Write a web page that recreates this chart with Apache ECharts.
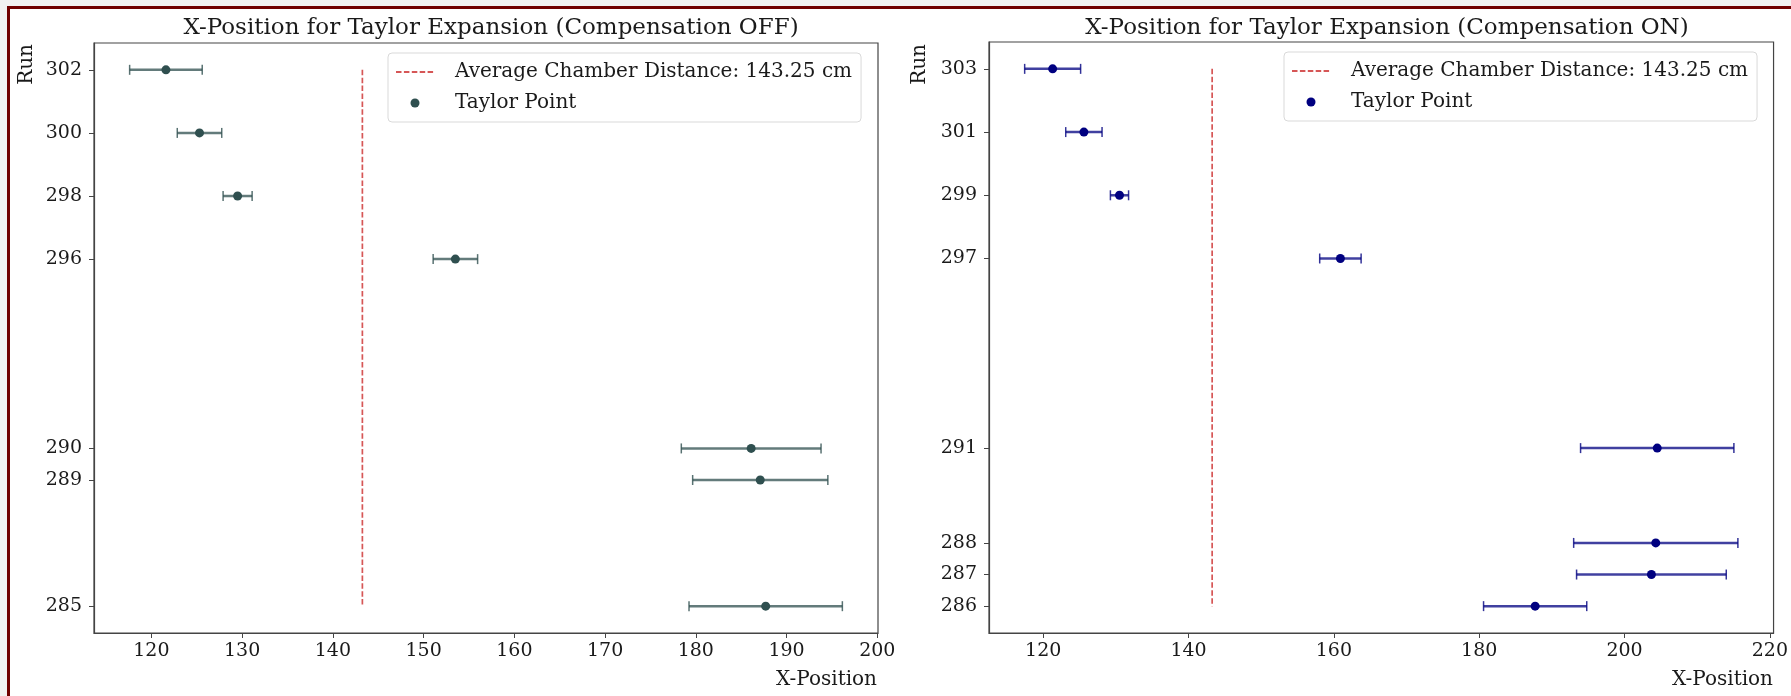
<!DOCTYPE html>
<html>
<head>
<meta charset="utf-8">
<script src="https://cdn.jsdelivr.net/npm/echarts@6.0.0/dist/echarts.min.js"></script>
<style>
  html, body { margin: 0; padding: 0; background: #f2f2f2; }
  #frame { position: absolute; left: 7px; top: 6px; right: 0; bottom: 0; background: #fff;
           border-top: 3px solid #700000; border-left: 3px solid #700000; }
  #chart { position: absolute; left: 0; top: 0; width: 1791px; height: 696px; }
</style>
</head>
<body>
<div id="frame"></div>
<div id="chart"></div>
<script>
// average chamber distance (vertical reference line)
const avgDistance = 143.25
const lineName = 'Average Chamber Distance: ' + avgDistance.toFixed(2) + ' cm'
const pointName = 'Taylor Point'

// compensation OFF
const runsOff = [302, 300, 298, 296, 290, 289, 285]
const xOff    = [121.6, 125.3, 129.5, 153.5, 186.1, 187.1, 187.7]
const errOff  = [4.0, 2.45, 1.6, 2.45, 7.7, 7.45, 8.45]
const xTicksOff = [120, 130, 140, 150, 160, 170, 180, 190, 200]

// compensation ON
const runsOn = [303, 301, 299, 297, 291, 288, 287, 286]
const xOn    = [121.3, 125.6, 130.5, 160.9, 204.5, 204.3, 203.7, 187.7]
const errOn  = [3.85, 2.5, 1.25, 2.85, 10.55, 11.3, 10.3, 7.1]
const xTicksOn = [120, 140, 160, 180, 200, 220]

const colOff = '#2f4f4f'
const colOn = '#000080'
const colLine = '#d24444'
const font = 'DejaVu Serif'
const txt = '#1a1a1a'

// matplotlib-like 5% margins
function pad(lo, hi) {
  let p = (hi - lo) * 0.05
  return [lo - p, hi + p]
}
function xRange(x, e) {
  return pad(Math.min(...x.map((v, i) => v - e[i])), Math.max(...x.map((v, i) => v + e[i])))
}
const xrOff = xRange(xOff, errOff), xrOn = xRange(xOn, errOn)
const yrOff = pad(Math.min(...runsOff), Math.max(...runsOff))
const yrOn = pad(Math.min(...runsOn), Math.max(...runsOn))

function errorBar(color) {
  return function (params, api) {
    let x = api.value(0), y = api.value(1), e = api.value(2)
    let a = api.coord([x - e, y]), b = api.coord([x + e, y])
    let cap = 5
    return {
      type: 'group',
      children: [
        { type: 'line', shape: { x1: a[0], y1: a[1], x2: b[0], y2: b[1] }, style: { stroke: color, lineWidth: 2.5, opacity: 0.75 } },
        { type: 'line', shape: { x1: a[0], y1: a[1] - cap, x2: a[0], y2: a[1] + cap }, style: { stroke: color, lineWidth: 1.5, opacity: 0.8 } },
        { type: 'line', shape: { x1: b[0], y1: b[1] - cap, x2: b[0], y2: b[1] + cap }, style: { stroke: color, lineWidth: 1.5, opacity: 0.8 } }
      ]
    }
  }
}

function xAxisOf(idx, range, ticks) {
  return {
    gridIndex: idx, type: 'value', min: range[0], max: range[1],
    splitLine: { show: false },
    axisLine: { show: true, lineStyle: { color: '#444', width: 1.2 } },
    axisTick: { show: true, length: 5, customValues: ticks, lineStyle: { color: '#444' } },
    axisLabel: { customValues: ticks, margin: 9, fontFamily: font, fontSize: 19, color: txt }
  }
}
function yAxisOf(idx, range, ticks) {
  return {
    gridIndex: idx, type: 'value', min: range[0], max: range[1],
    splitLine: { show: false },
    axisLine: { show: true, lineStyle: { color: '#444', width: 1.2 } },
    axisTick: { show: true, length: 5, customValues: ticks, lineStyle: { color: '#444' } },
    axisLabel: { customValues: ticks, margin: 12, fontFamily: font, fontSize: 19, color: txt }
  }
}

function legendOf(left, top, pointColor) {
  return {
    left: left, top: top, orient: 'vertical',
    itemWidth: 38, itemHeight: 9, itemGap: 11,
    padding: [9, 9, 9, 7],
    borderColor: '#d9d9d9', borderWidth: 1, borderRadius: 4, backgroundColor: '#fff',
    textStyle: { fontFamily: font, fontSize: 20, color: txt, padding: [0, 0, 0, 16] },
    selectedMode: false,
    data: [
      { name: lineName, itemStyle: { opacity: 0 } },
      { name: pointName, icon: 'circle', itemStyle: { color: pointColor } }
    ]
  }
}

function panelSeries(idx, runs, x, err, color) {
  return [
    {
      name: lineName, type: 'line', xAxisIndex: idx, yAxisIndex: idx,
      symbol: 'none', silent: true,
      lineStyle: { color: colLine, width: 1.7, type: [5.5, 2.4], opacity: 0.9 },
      itemStyle: { color: colLine },
      data: [[avgDistance, Math.max(...runs)], [avgDistance, Math.min(...runs)]]
    },
    {
      type: 'custom', xAxisIndex: idx, yAxisIndex: idx,
      renderItem: errorBar(color),
      encode: { x: 0, y: 1 },
      data: runs.map((r, i) => [x[i], r, err[i]]),
      z: 3
    },
    {
      name: pointName, type: 'scatter', xAxisIndex: idx, yAxisIndex: idx,
      symbolSize: 9, itemStyle: { color: color, opacity: 1 },
      data: runs.map((r, i) => [x[i], r]),
      z: 4
    }
  ]
}

let chart = echarts.init(document.getElementById('chart'), null, { renderer: 'canvas' })
let option = {
  animation: false,
  backgroundColor: 'transparent',
  title: [
    { text: 'X-Position for Taylor Expansion (Compensation OFF)', left: 486, top: 12, textAlign: 'center',
      textStyle: { fontFamily: font, fontSize: 23, fontWeight: 'normal', color: txt } },
    { text: 'X-Position for Taylor Expansion (Compensation ON)', left: 1382, top: 12, textAlign: 'center',
      textStyle: { fontFamily: font, fontSize: 23, fontWeight: 'normal', color: txt } }
  ],
  grid: [
    { left: 94, top: 43, width: 784, height: 590, show: true, borderColor: '#444', borderWidth: 1.2, backgroundColor: 'transparent' },
    { left: 989, top: 42, width: 785, height: 591, show: true, borderColor: '#444', borderWidth: 1.2, backgroundColor: 'transparent' }
  ],
  xAxis: [xAxisOf(0, xrOff, xTicksOff), xAxisOf(1, xrOn, xTicksOn)],
  yAxis: [yAxisOf(0, yrOff, runsOff), yAxisOf(1, yrOn, runsOn)],
  legend: [legendOf(388, 53, colOff), legendOf(1284, 52, colOn)],
  graphic: [
    { type: 'text', x: 27, y: 44, rotation: Math.PI / 2,
      style: { text: 'Run', font: '20px "DejaVu Serif"', fill: txt, align: 'right', verticalAlign: 'middle' } },
    { type: 'text', x: 920, y: 44, rotation: Math.PI / 2,
      style: { text: 'Run', font: '20px "DejaVu Serif"', fill: txt, align: 'right', verticalAlign: 'middle' } },
    { type: 'text', x: 877, y: 680,
      style: { text: 'X-Position', font: '20px "DejaVu Serif"', fill: txt, align: 'right', verticalAlign: 'middle' } },
    { type: 'text', x: 1773, y: 680,
      style: { text: 'X-Position', font: '20px "DejaVu Serif"', fill: txt, align: 'right', verticalAlign: 'middle' } }
  ],
  series: [].concat(
    panelSeries(0, runsOff, xOff, errOff, colOff),
    panelSeries(1, runsOn, xOn, errOn, colOn)
  )
}
chart.setOption(option)
</script>
</body>
</html>
